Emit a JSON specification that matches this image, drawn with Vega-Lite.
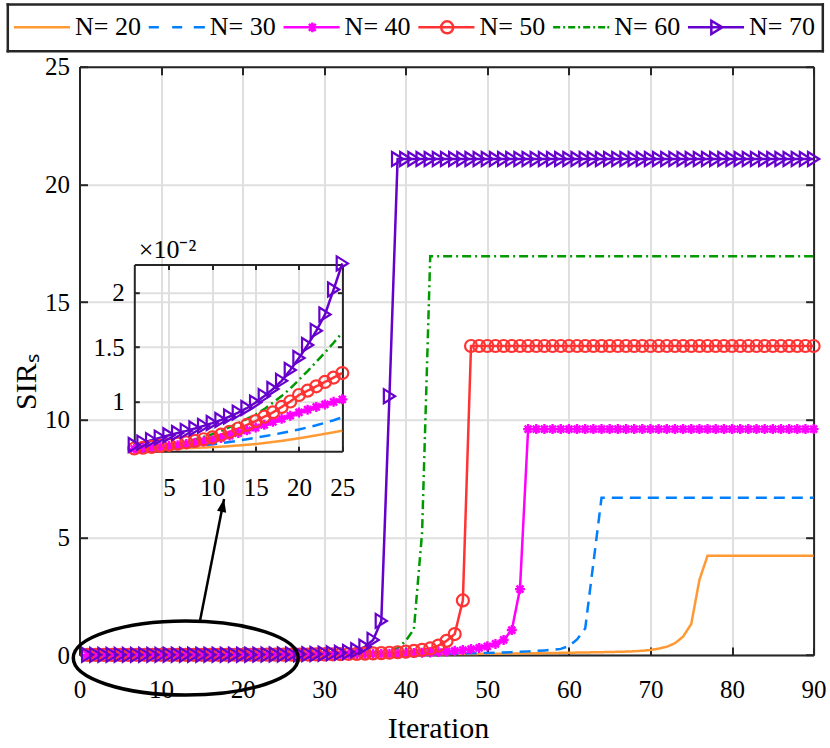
{
  "$schema": "https://vega.github.io/schema/vega-lite/v6.json",
  "autosize": "none",
  "width": 734.1,
  "height": 588.3,
  "padding": {"left": 79.5, "top": 66.7, "right": 16.4, "bottom": 93},
  "view": {"stroke": null},
  "datasets": {
    "sir": [
      {"i":1,"N= 20":0.0056,"N= 30":0.00562,"N= 40":0.00565,"N= 50":0.00568,"N= 60":0.00572,"N= 70":0.006},
      {"i":2,"N= 20":0.00562,"N= 30":0.00564,"N= 40":0.0057,"N= 50":0.00575,"N= 60":0.00577,"N= 70":0.00622},
      {"i":3,"N= 20":0.00564,"N= 30":0.00567,"N= 40":0.00576,"N= 50":0.00583,"N= 60":0.00584,"N= 70":0.00645},
      {"i":4,"N= 20":0.00566,"N= 30":0.0057,"N= 40":0.00583,"N= 50":0.00592,"N= 60":0.00592,"N= 70":0.00668},
      {"i":5,"N= 20":0.00568,"N= 30":0.00574,"N= 40":0.0059,"N= 50":0.00602,"N= 60":0.00602,"N= 70":0.0069},
      {"i":6,"N= 20":0.0057,"N= 30":0.00578,"N= 40":0.00599,"N= 50":0.00613,"N= 60":0.00615,"N= 70":0.0071},
      {"i":7,"N= 20":0.00572,"N= 30":0.00583,"N= 40":0.00609,"N= 50":0.00625,"N= 60":0.00632,"N= 70":0.0073},
      {"i":8,"N= 20":0.00574,"N= 30":0.0059,"N= 40":0.0062,"N= 50":0.00638,"N= 60":0.00652,"N= 70":0.00752},
      {"i":9,"N= 20":0.00577,"N= 30":0.00598,"N= 40":0.00632,"N= 50":0.00653,"N= 60":0.00675,"N= 70":0.00776},
      {"i":10,"N= 20":0.0058,"N= 30":0.00607,"N= 40":0.00645,"N= 50":0.0067,"N= 60":0.007,"N= 70":0.00802},
      {"i":11,"N= 20":0.00585,"N= 30":0.00617,"N= 40":0.00665,"N= 50":0.00695,"N= 60":0.0073,"N= 70":0.0083},
      {"i":12,"N= 20":0.0059,"N= 30":0.00628,"N= 40":0.00687,"N= 50":0.00722,"N= 60":0.00765,"N= 70":0.00862},
      {"i":13,"N= 20":0.00596,"N= 30":0.0064,"N= 40":0.0071,"N= 50":0.00752,"N= 60":0.008,"N= 70":0.00898},
      {"i":14,"N= 20":0.00602,"N= 30":0.00653,"N= 40":0.00735,"N= 50":0.00785,"N= 60":0.0084,"N= 70":0.0094},
      {"i":15,"N= 20":0.00609,"N= 30":0.00667,"N= 40":0.0076,"N= 50":0.0082,"N= 60":0.0088,"N= 70":0.0099},
      {"i":16,"N= 20":0.00618,"N= 30":0.00681,"N= 40":0.00786,"N= 50":0.0086,"N= 60":0.0093,"N= 70":0.0105},
      {"i":17,"N= 20":0.00628,"N= 30":0.00695,"N= 40":0.00813,"N= 50":0.009,"N= 60":0.0099,"N= 70":0.01115},
      {"i":18,"N= 20":0.00638,"N= 30":0.0071,"N= 40":0.00841,"N= 50":0.0095,"N= 60":0.0105,"N= 70":0.0119},
      {"i":19,"N= 20":0.0065,"N= 30":0.00726,"N= 40":0.0087,"N= 50":0.01,"N= 60":0.0112,"N= 70":0.0129},
      {"i":20,"N= 20":0.00662,"N= 30":0.00743,"N= 40":0.009,"N= 50":0.0106,"N= 60":0.012,"N= 70":0.014},
      {"i":21,"N= 20":0.00675,"N= 30":0.00762,"N= 40":0.00925,"N= 50":0.011,"N= 60":0.0128,"N= 70":0.0152},
      {"i":22,"N= 20":0.00689,"N= 30":0.00782,"N= 40":0.0095,"N= 50":0.0114,"N= 60":0.01365,"N= 70":0.0165},
      {"i":23,"N= 20":0.00703,"N= 30":0.00804,"N= 40":0.00973,"N= 50":0.0118,"N= 60":0.0145,"N= 70":0.018},
      {"i":24,"N= 20":0.00717,"N= 30":0.00828,"N= 40":0.00997,"N= 50":0.0122,"N= 60":0.0154,"N= 70":0.0203},
      {"i":25,"N= 20":0.00732,"N= 30":0.00855,"N= 40":0.0102,"N= 50":0.01262,"N= 60":0.01635,"N= 70":0.0227},
      {"i":26,"N= 20":0.0079,"N= 30":0.0093,"N= 40":0.0116,"N= 50":0.0146,"N= 60":0.0184,"N= 70":0.026},
      {"i":27,"N= 20":0.0086,"N= 30":0.0101,"N= 40":0.0132,"N= 50":0.0169,"N= 60":0.021,"N= 70":0.031},
      {"i":28,"N= 20":0.0093,"N= 30":0.011,"N= 40":0.015,"N= 50":0.0196,"N= 60":0.024,"N= 70":0.037},
      {"i":29,"N= 20":0.0101,"N= 30":0.012,"N= 40":0.017,"N= 50":0.0227,"N= 60":0.028,"N= 70":0.045},
      {"i":30,"N= 20":0.011,"N= 30":0.0131,"N= 40":0.0193,"N= 50":0.0263,"N= 60":0.033,"N= 70":0.056},
      {"i":31,"N= 20":0.0119,"N= 30":0.0143,"N= 40":0.0219,"N= 50":0.0305,"N= 60":0.039,"N= 70":0.071},
      {"i":32,"N= 20":0.0129,"N= 30":0.0156,"N= 40":0.0249,"N= 50":0.0355,"N= 60":0.047,"N= 70":0.092},
      {"i":33,"N= 20":0.014,"N= 30":0.017,"N= 40":0.0283,"N= 50":0.0415,"N= 60":0.057,"N= 70":0.13},
      {"i":34,"N= 20":0.0152,"N= 30":0.0186,"N= 40":0.032,"N= 50":0.0485,"N= 60":0.07,"N= 70":0.2},
      {"i":35,"N= 20":0.0165,"N= 30":0.0203,"N= 40":0.0365,"N= 50":0.057,"N= 60":0.088,"N= 70":0.35},
      {"i":36,"N= 20":0.0179,"N= 30":0.0222,"N= 40":0.0415,"N= 50":0.067,"N= 60":0.113,"N= 70":0.64},
      {"i":37,"N= 20":0.0194,"N= 30":0.0243,"N= 40":0.047,"N= 50":0.08,"N= 60":0.15,"N= 70":1.45},
      {"i":38,"N= 20":0.021,"N= 30":0.0266,"N= 40":0.054,"N= 50":0.096,"N= 60":0.2,"N= 70":11},
      {"i":39,"N= 20":0.0228,"N= 30":0.0291,"N= 40":0.062,"N= 50":0.116,"N= 60":0.29,"N= 70":21.08},
      {"i":40,"N= 20":0.0247,"N= 30":0.0319,"N= 40":0.071,"N= 50":0.142,"N= 60":0.6,"N= 70":21.08},
      {"i":41,"N= 20":0.0267,"N= 30":0.035,"N= 40":0.082,"N= 50":0.175,"N= 60":1.1,"N= 70":21.08},
      {"i":42,"N= 20":0.0289,"N= 30":0.0385,"N= 40":0.095,"N= 50":0.22,"N= 60":5.2,"N= 70":21.08},
      {"i":43,"N= 20":0.0312,"N= 30":0.0424,"N= 40":0.11,"N= 50":0.28,"N= 60":16.95,"N= 70":21.08},
      {"i":44,"N= 20":0.0337,"N= 30":0.0468,"N= 40":0.128,"N= 50":0.4,"N= 60":16.95,"N= 70":21.08},
      {"i":45,"N= 20":0.0363,"N= 30":0.0517,"N= 40":0.15,"N= 50":0.6,"N= 60":16.95,"N= 70":21.08},
      {"i":46,"N= 20":0.039,"N= 30":0.0572,"N= 40":0.178,"N= 50":0.89,"N= 60":16.95,"N= 70":21.08},
      {"i":47,"N= 20":0.0419,"N= 30":0.0634,"N= 40":0.21,"N= 50":2.32,"N= 60":16.95,"N= 70":21.08},
      {"i":48,"N= 20":0.045,"N= 30":0.0704,"N= 40":0.25,"N= 50":13.13,"N= 60":16.95,"N= 70":21.08},
      {"i":49,"N= 20":0.0482,"N= 30":0.0783,"N= 40":0.3,"N= 50":13.13,"N= 60":16.95,"N= 70":21.08},
      {"i":50,"N= 20":0.0516,"N= 30":0.0872,"N= 40":0.37,"N= 50":13.13,"N= 60":16.95,"N= 70":21.08},
      {"i":51,"N= 20":0.0552,"N= 30":0.0975,"N= 40":0.47,"N= 50":13.13,"N= 60":16.95,"N= 70":21.08},
      {"i":52,"N= 20":0.059,"N= 30":0.109,"N= 40":0.64,"N= 50":13.13,"N= 60":16.95,"N= 70":21.08},
      {"i":53,"N= 20":0.063,"N= 30":0.122,"N= 40":1.06,"N= 50":13.13,"N= 60":16.95,"N= 70":21.08},
      {"i":54,"N= 20":0.0672,"N= 30":0.137,"N= 40":2.8,"N= 50":13.13,"N= 60":16.95,"N= 70":21.08},
      {"i":55,"N= 20":0.0716,"N= 30":0.154,"N= 40":9.6,"N= 50":13.13,"N= 60":16.95,"N= 70":21.08},
      {"i":56,"N= 20":0.0762,"N= 30":0.173,"N= 40":9.6,"N= 50":13.13,"N= 60":16.95,"N= 70":21.08},
      {"i":57,"N= 20":0.081,"N= 30":0.195,"N= 40":9.6,"N= 50":13.13,"N= 60":16.95,"N= 70":21.08},
      {"i":58,"N= 20":0.086,"N= 30":0.22,"N= 40":9.6,"N= 50":13.13,"N= 60":16.95,"N= 70":21.08},
      {"i":59,"N= 20":0.0912,"N= 30":0.26,"N= 40":9.6,"N= 50":13.13,"N= 60":16.95,"N= 70":21.08},
      {"i":60,"N= 20":0.0966,"N= 30":0.38,"N= 40":9.6,"N= 50":13.13,"N= 60":16.95,"N= 70":21.08},
      {"i":61,"N= 20":0.1022,"N= 30":0.66,"N= 40":9.6,"N= 50":13.13,"N= 60":16.95,"N= 70":21.08},
      {"i":62,"N= 20":0.108,"N= 30":1.13,"N= 40":9.6,"N= 50":13.13,"N= 60":16.95,"N= 70":21.08},
      {"i":63,"N= 20":0.114,"N= 30":3.9,"N= 40":9.6,"N= 50":13.13,"N= 60":16.95,"N= 70":21.08},
      {"i":64,"N= 20":0.12,"N= 30":6.68,"N= 40":9.6,"N= 50":13.13,"N= 60":16.95,"N= 70":21.08},
      {"i":65,"N= 20":0.127,"N= 30":6.68,"N= 40":9.6,"N= 50":13.13,"N= 60":16.95,"N= 70":21.08},
      {"i":66,"N= 20":0.135,"N= 30":6.68,"N= 40":9.6,"N= 50":13.13,"N= 60":16.95,"N= 70":21.08},
      {"i":67,"N= 20":0.145,"N= 30":6.68,"N= 40":9.6,"N= 50":13.13,"N= 60":16.95,"N= 70":21.08},
      {"i":68,"N= 20":0.158,"N= 30":6.68,"N= 40":9.6,"N= 50":13.13,"N= 60":16.95,"N= 70":21.08},
      {"i":69,"N= 20":0.18,"N= 30":6.68,"N= 40":9.6,"N= 50":13.13,"N= 60":16.95,"N= 70":21.08},
      {"i":70,"N= 20":0.215,"N= 30":6.68,"N= 40":9.6,"N= 50":13.13,"N= 60":16.95,"N= 70":21.08},
      {"i":71,"N= 20":0.27,"N= 30":6.68,"N= 40":9.6,"N= 50":13.13,"N= 60":16.95,"N= 70":21.08},
      {"i":72,"N= 20":0.35,"N= 30":6.68,"N= 40":9.6,"N= 50":13.13,"N= 60":16.95,"N= 70":21.08},
      {"i":73,"N= 20":0.5,"N= 30":6.68,"N= 40":9.6,"N= 50":13.13,"N= 60":16.95,"N= 70":21.08},
      {"i":74,"N= 20":0.78,"N= 30":6.68,"N= 40":9.6,"N= 50":13.13,"N= 60":16.95,"N= 70":21.08},
      {"i":75,"N= 20":1.32,"N= 30":6.68,"N= 40":9.6,"N= 50":13.13,"N= 60":16.95,"N= 70":21.08},
      {"i":76,"N= 20":3.19,"N= 30":6.68,"N= 40":9.6,"N= 50":13.13,"N= 60":16.95,"N= 70":21.08},
      {"i":77,"N= 20":4.22,"N= 30":6.68,"N= 40":9.6,"N= 50":13.13,"N= 60":16.95,"N= 70":21.08},
      {"i":78,"N= 20":4.22,"N= 30":6.68,"N= 40":9.6,"N= 50":13.13,"N= 60":16.95,"N= 70":21.08},
      {"i":79,"N= 20":4.22,"N= 30":6.68,"N= 40":9.6,"N= 50":13.13,"N= 60":16.95,"N= 70":21.08},
      {"i":80,"N= 20":4.22,"N= 30":6.68,"N= 40":9.6,"N= 50":13.13,"N= 60":16.95,"N= 70":21.08},
      {"i":81,"N= 20":4.22,"N= 30":6.68,"N= 40":9.6,"N= 50":13.13,"N= 60":16.95,"N= 70":21.08},
      {"i":82,"N= 20":4.22,"N= 30":6.68,"N= 40":9.6,"N= 50":13.13,"N= 60":16.95,"N= 70":21.08},
      {"i":83,"N= 20":4.22,"N= 30":6.68,"N= 40":9.6,"N= 50":13.13,"N= 60":16.95,"N= 70":21.08},
      {"i":84,"N= 20":4.22,"N= 30":6.68,"N= 40":9.6,"N= 50":13.13,"N= 60":16.95,"N= 70":21.08},
      {"i":85,"N= 20":4.22,"N= 30":6.68,"N= 40":9.6,"N= 50":13.13,"N= 60":16.95,"N= 70":21.08},
      {"i":86,"N= 20":4.22,"N= 30":6.68,"N= 40":9.6,"N= 50":13.13,"N= 60":16.95,"N= 70":21.08},
      {"i":87,"N= 20":4.22,"N= 30":6.68,"N= 40":9.6,"N= 50":13.13,"N= 60":16.95,"N= 70":21.08},
      {"i":88,"N= 20":4.22,"N= 30":6.68,"N= 40":9.6,"N= 50":13.13,"N= 60":16.95,"N= 70":21.08},
      {"i":89,"N= 20":4.22,"N= 30":6.68,"N= 40":9.6,"N= 50":13.13,"N= 60":16.95,"N= 70":21.08},
      {"i":90,"N= 20":4.22,"N= 30":6.68,"N= 40":9.6,"N= 50":13.13,"N= 60":16.95,"N= 70":21.08}
    ],
    "notes": [
      {"what": "ellipse", "cx": 13.03, "cy": -0.13},
      {"what": "arrow", "ax": 14.77, "ay": 1.44, "bx": 17.72, "by": 6.63}
    ]
  },
  "data": {"name": "sir"},
  "transform": [
    {"fold": ["N= 20", "N= 30", "N= 40", "N= 50", "N= 60", "N= 70"], "as": ["N", "v"]}
  ],
  "layer": [
    {
      "resolve": {"axis": {"x": "independent", "y": "independent"}},
      "layer": [
        {
          "mark": {"type": "line", "strokeWidth": 2.5},
          "encoding": {
            "x": {
              "field": "i", "type": "quantitative",
              "scale": {"domain": [0, 90], "nice": false},
              "axis": {
                "orient": "bottom", "values": [0, 10, 20, 30, 40, 50, 60, 70, 80, 90],
                "grid": true, "tickSize": -8, "labelPadding": 30,
                "labelFont": "Liberation Serif", "labelFontSize": 25,
                "title": "Iteration", "titleFontSize": 30, "titleX": 358.5, "titleY": 73,
                "titleBaseline": "middle"
              }
            },
            "y": {
              "field": "v", "type": "quantitative",
              "scale": {"domain": [0, 25], "nice": false},
              "axis": {
                "orient": "left", "values": [0, 5, 10, 15, 20, 25],
                "grid": true, "tickSize": -8, "labelPadding": 18,
                "labelFont": "Liberation Serif", "labelFontSize": 25,
                "title": "SIRₛ", "titleFontSize": 30, "titleX": -53.5, "titleY": 315,
                "titleBaseline": "middle", "titleAlign": "center"
              }
            },
            "color": {
              "field": "N", "type": "nominal", "legend": null,
              "scale": {
                "domain": ["N= 20", "N= 30", "N= 40", "N= 50", "N= 60", "N= 70"],
                "range": ["#FF9933", "#0080FF", "#FF00FF", "#FF3333", "#009900", "#6600CC"]
              }
            },
            "strokeDash": {
              "field": "N", "type": "nominal", "legend": null,
              "scale": {
                "domain": ["N= 20", "N= 30", "N= 40", "N= 50", "N= 60", "N= 70"],
                "range": [[1, 0], [11, 7], [1, 0], [1, 0], [9, 4, 2, 4], [1, 0]]
              }
            }
          }
        },
        {
          "transform": [{"filter": "datum.N == 'N= 40'"}],
          "mark": {
            "type": "point", "shape": "M-1,0H1M0,-1V1M-0.7,-0.7L0.7,0.7M-0.7,0.7L0.7,-0.7",
            "size": 100, "filled": false, "strokeWidth": 2.4, "color": "#FF00FF", "opacity": 1
          },
          "encoding": {
            "x": {"field": "i", "type": "quantitative", "axis": null},
            "y": {"field": "v", "type": "quantitative", "axis": null}
          }
        },
        {
          "transform": [{"filter": "datum.N == 'N= 50'"}],
          "mark": {
            "type": "point", "shape": "circle", "size": 144, "filled": false,
            "strokeWidth": 2.2, "color": "#FF3333", "opacity": 1
          },
          "encoding": {
            "x": {"field": "i", "type": "quantitative", "axis": null},
            "y": {"field": "v", "type": "quantitative", "axis": null}
          }
        },
        {
          "transform": [{"filter": "datum.N == 'N= 70'"}],
          "mark": {
            "type": "point", "shape": "M-0.8,-1L0.8,0L-0.8,1Z", "size": 196, "filled": false,
            "strokeWidth": 2.2, "color": "#6600CC", "opacity": 1
          },
          "encoding": {
            "x": {
              "field": "i", "type": "quantitative",
              "axis": {"orient": "top", "values": [0, 10, 20, 30, 40, 50, 60, 70, 80, 90], "labels": false, "grid": false, "tickSize": -8, "title": null}
            },
            "y": {
              "field": "v", "type": "quantitative",
              "axis": {"orient": "right", "values": [0, 5, 10, 15, 20, 25], "labels": false, "grid": false, "tickSize": -8, "title": null}
            }
          }
        },
        {
          "data": {"name": "notes"},
          "transform": [{"filter": "datum.what == 'ellipse'"}],
          "mark": {
            "type": "point", "shape": "M-1,0A1,0.329,0,1,1,1,0A1,0.329,0,1,1,-1,0Z",
            "size": 50625, "filled": false, "strokeWidth": 3.5, "color": "black", "opacity": 1
          },
          "encoding": {
            "x": {"field": "cx", "type": "quantitative", "axis": null},
            "y": {"field": "cy", "type": "quantitative", "axis": null}
          }
        },
        {
          "data": {"name": "notes"},
          "transform": [{"filter": "datum.what == 'arrow'"}],
          "mark": {"type": "rule", "strokeWidth": 2.5, "color": "black"},
          "encoding": {
            "x": {"field": "ax", "type": "quantitative", "axis": null},
            "y": {"field": "ay", "type": "quantitative", "axis": null},
            "x2": {"field": "bx"},
            "y2": {"field": "by"}
          }
        },
        {
          "data": {"name": "notes"},
          "transform": [{"filter": "datum.what == 'arrow'"}],
          "mark": {
            "type": "point", "shape": "M0,0L0.36,1L-0.36,1Z", "size": 676,
            "filled": true, "color": "black", "angle": 11, "opacity": 1
          },
          "encoding": {
            "x": {"field": "bx", "type": "quantitative", "axis": null},
            "y": {"field": "by", "type": "quantitative", "axis": null}
          }
        }
      ]
    },
    {
      "transform": [{"filter": "datum.i <= 25"}],
      "resolve": {"axis": {"x": "independent", "y": "independent"}},
      "layer": [
        {
          "mark": {"type": "line", "strokeWidth": 2.5},
          "encoding": {
            "x": {
              "field": "i", "type": "quantitative",
              "scale": {"domain": [1, 25], "range": [54.8, 262.8], "nice": false, "zero": false},
              "axis": {
                "orient": "bottom", "offset": -203.7, "values": [5, 10, 15, 20, 25],
                "grid": false, "tickSize": -5, "labelPadding": 29, "title": null,
                "labelFont": "Liberation Serif", "labelFontSize": 25
              }
            },
            "y": {
              "field": "v", "type": "quantitative",
              "scale": {"domain": [0.00545, 0.0226], "range": [384.3, 197.8], "nice": false, "zero": false},
              "axis": {
                "orient": "left", "offset": -54.8, "values": [0.01, 0.015, 0.02],
                "labelExpr": "format(datum.value * 100, '~g')",
                "labelFont": "Liberation Serif", "labelFontSize": 25,
                "grid": true, "tickSize": -5, "labelPadding": 15,
                "title": "×10⁻²", "titleAngle": 0, "titleFontSize": 26, "titleX": 4, "titleY": 183,
                "titleAlign": "left", "titleBaseline": "middle"
              }
            },
            "color": {"field": "N", "type": "nominal", "legend": null},
            "strokeDash": {"field": "N", "type": "nominal", "legend": null}
          }
        },
        {
          "transform": [{"filter": "datum.N == 'N= 40'"}],
          "mark": {
            "type": "point", "shape": "M-1,0H1M0,-1V1M-0.7,-0.7L0.7,0.7M-0.7,0.7L0.7,-0.7",
            "size": 100, "filled": false, "strokeWidth": 2.4, "color": "#FF00FF", "opacity": 1
          },
          "encoding": {
            "x": {"field": "i", "type": "quantitative", "axis": null},
            "y": {"field": "v", "type": "quantitative", "axis": null}
          }
        },
        {
          "transform": [{"filter": "datum.N == 'N= 50'"}],
          "mark": {
            "type": "point", "shape": "circle", "size": 144, "filled": false,
            "strokeWidth": 2.2, "color": "#FF3333", "opacity": 1
          },
          "encoding": {
            "x": {"field": "i", "type": "quantitative", "axis": null},
            "y": {"field": "v", "type": "quantitative", "axis": null}
          }
        },
        {
          "transform": [{"filter": "datum.N == 'N= 70'"}],
          "mark": {
            "type": "point", "shape": "M-0.8,-1L0.8,0L-0.8,1Z", "size": 196, "filled": false,
            "strokeWidth": 2.2, "color": "#6600CC", "opacity": 1
          },
          "encoding": {
            "x": {
              "field": "i", "type": "quantitative",
              "axis": {"orient": "top", "offset": -197.8, "values": [5, 10, 15, 20, 25], "labels": false, "grid": true, "tickSize": -5, "title": null}
            },
            "y": {
              "field": "v", "type": "quantitative",
              "axis": {"orient": "right", "offset": -471.2, "values": [0.01, 0.015, 0.02], "labels": false, "grid": false, "tickSize": -5, "title": null}
            }
          }
        }
      ]
    },
    {
      "transform": [{"filter": "datum.i == 1"}],
      "resolve": {"axis": {"x": "independent", "y": "independent"}},
      "layer": [
        {
          "mark": {"type": "point", "filled": false, "strokeWidth": 2.5, "size": 900, "opacity": 1, "xOffset": 19.9},
          "encoding": {
            "x": {
              "field": "N", "type": "nominal", "bandPosition": 0,
              "scale": {
                "type": "band", "domain": ["N= 20", "N= 30", "N= 40", "N= 50", "N= 60", "N= 70"],
                "range": [-72.2, 742.8], "paddingInner": 0, "paddingOuter": 0.023
              },
              "axis": {"orient": "bottom", "offset": -604.3, "labels": false, "ticks": false, "grid": false, "title": null, "domainWidth": 2.5, "domainCap": "square"}
            },
            "y": {
              "datum": 0.5, "type": "quantitative",
              "scale": {"domain": [0, 1], "range": [-16, -62.7], "nice": false, "zero": false},
              "axis": {"orient": "left", "offset": 72.2, "labels": false, "ticks": false, "grid": false, "title": null, "domainWidth": 2.5, "domainCap": "square"}
            },
            "shape": {
              "field": "N", "type": "nominal", "legend": null,
              "scale": {
                "domain": ["N= 20", "N= 30", "N= 40", "N= 50", "N= 60", "N= 70"],
                "range": [
                  "M-1.09,0H2.65",
                  "M-1.09,0H-0.42M0.47,0H1.14M1.91,0H2.65",
                  "M-1.09,0H2.65M0.83,-0.33V0.33M0.5,0H1.16M0.6,-0.23L1.06,0.23M0.6,0.23L1.06,-0.23",
                  "M-1.09,0H2.65M0.43,0A0.4,0.4,0,1,0,1.23,0A0.4,0.4,0,1,0,0.43,0Z",
                  "M-1.09,0H-0.62M-0.42,0H-0.29M-0.09,0H0.38M0.58,0H0.71M0.91,0H1.38M1.58,0H1.71M1.91,0H2.38M2.52,0H2.65",
                  "M-1.09,0H2.65M0.47,-0.44L1.2,0L0.47,0.44Z"
                ]
              }
            },
            "color": {"field": "N", "type": "nominal", "legend": null}
          }
        },
        {
          "mark": {
            "type": "text", "align": "left", "baseline": "middle", "font": "Liberation Serif",
            "fontSize": 26, "color": "black", "xOffset": 64.6
          },
          "encoding": {
            "x": {
              "field": "N", "type": "nominal", "bandPosition": 0,
              "axis": {"orient": "top", "offset": 62.7, "labels": false, "ticks": false, "grid": false, "title": null, "domainWidth": 2.5, "domainCap": "square"}
            },
            "y": {
              "datum": 0.5, "type": "quantitative",
              "axis": {"orient": "right", "offset": 8.7, "labels": false, "ticks": false, "grid": false, "title": null, "domainWidth": 2.5, "domainCap": "square"}
            },
            "text": {"field": "N"}
          }
        }
      ]
    }
  ],
  "resolve": {"scale": {"x": "independent", "y": "independent"}},
  "config": {
    "font": "Liberation Serif",
    "axis": {
      "labelFont": "Liberation Serif", "titleFont": "Liberation Serif",
      "labelFontSize": 25, "labelColor": "black", "titleColor": "black", "titleFontWeight": "normal",
      "domainColor": "#262626", "domainWidth": 2, "tickColor": "#262626", "tickWidth": 2,
      "gridColor": "#DFDFDF", "gridWidth": 2, "gridOpacity": 1,
      "labelFlush": false, "labelOverlap": false
    }
  }
}
